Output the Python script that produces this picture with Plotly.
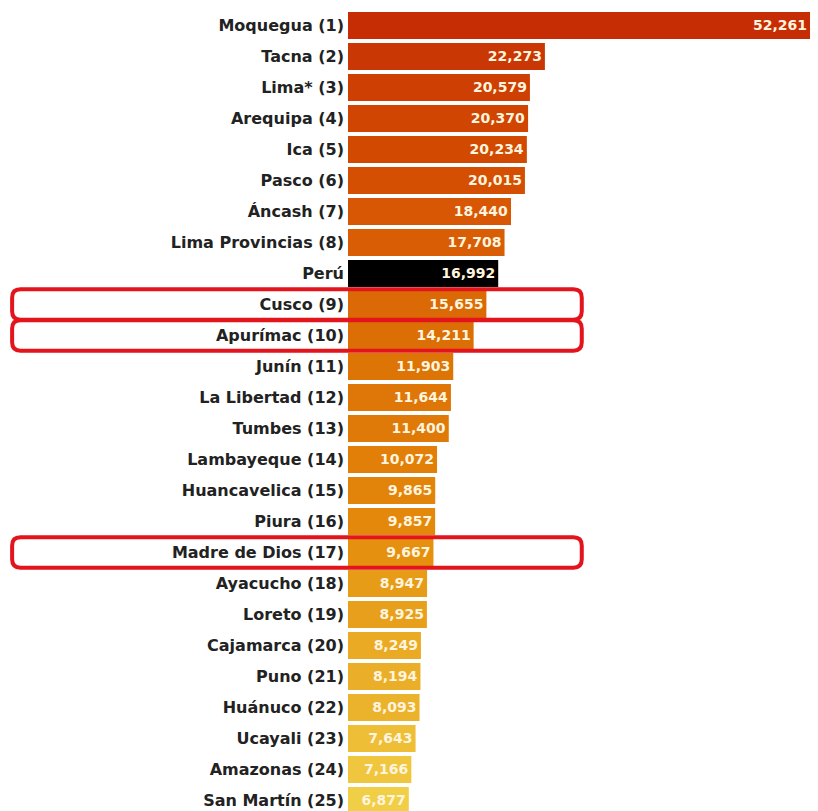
import plotly.graph_objects as go

# regions, ranked, with the national figure in the middle
regions = [
    "Moquegua (1)", "Tacna (2)", "Lima* (3)", "Arequipa (4)", "Ica (5)",
    "Pasco (6)", "Áncash (7)", "Lima Provincias (8)", "Perú", "Cusco (9)",
    "Apurímac (10)", "Junín (11)", "La Libertad (12)", "Tumbes (13)",
    "Lambayeque (14)", "Huancavelica (15)", "Piura (16)", "Madre de Dios (17)",
    "Ayacucho (18)", "Loreto (19)", "Cajamarca (20)", "Puno (21)",
    "Huánuco (22)", "Ucayali (23)", "Amazonas (24)", "San Martín (25)",
]
values = [
    52261, 22273, 20579, 20370, 20234, 20015, 18440, 17708, 16992, 15655,
    14211, 11903, 11644, 11400, 10072, 9865, 9857, 9667, 8947, 8925,
    8249, 8194, 8093, 7643, 7166, 6877,
]
highlighted = ["Cusco (9)", "Apurímac (10)", "Madre de Dios (17)"]

# bar colours, dark red at the top fading to yellow, Perú in black
colors = [
    "#C62D05", "#C93705", "#CD3F03", "#D04502", "#D24A02", "#D44F02",
    "#D75705", "#D95D05", "#000000", "#DB6A06", "#DC6E06", "#DD7406",
    "#DE7707", "#DF7A08", "#E17F08", "#E2840A", "#E4880C", "#E5900E",
    "#E79C18", "#E8A01C", "#EAAA24", "#EBAE28", "#EBB22C", "#EDBE36",
    "#EFC63E", "#F0CE46",
]

pos = list(range(len(regions)))

fig = go.Figure()
fig.add_trace(go.Bar(
    x=values,
    y=pos,
    orientation="h",
    marker=dict(color=colors, line=dict(width=0)),
    text=[f"{v:,}" for v in values],
    textposition="inside",
    insidetextanchor="end",
    textfont=dict(family="DejaVu Sans", size=14, color="#FFF4DE", weight="bold"),
    hoverinfo="skip",
))

# rounded red boxes around the highlighted rows
x0, x1 = -0.727, 0.506
rx, ry = 0.018, 0.27
shapes = []
for name in highlighted:
    i = regions.index(name)
    y0, y1 = i - 0.49, i + 0.49
    path = (
        f"M {x0 + rx},{y0} L {x1 - rx},{y0} Q {x1},{y0} {x1},{y0 + ry} "
        f"L {x1},{y1 - ry} Q {x1},{y1} {x1 - rx},{y1} "
        f"L {x0 + rx},{y1} Q {x0},{y1} {x0},{y1 - ry} "
        f"L {x0},{y0 + ry} Q {x0},{y0} {x0 + rx},{y0} Z"
    )
    shapes.append(dict(type="path", path=path, xref="paper", yref="y",
                       line=dict(color="#E3141B", width=4), layer="above"))

# the page body adds an 8px margin, so the figure is a bit smaller than the window
fig.update_layout(
    width=802,
    height=803,
    margin=dict(l=340, r=0, t=2, b=0),
    paper_bgcolor="white",
    plot_bgcolor="white",
    bargap=0.13,
    showlegend=False,
    shapes=shapes,
    xaxis=dict(visible=False, range=[0, max(values)], fixedrange=True),
    yaxis=dict(
        tickvals=pos,
        ticktext=regions,
        range=[25.34, -0.5],
        showgrid=False,
        zeroline=False,
        showline=False,
        ticks="",
        ticklabelstandoff=3,
        tickfont=dict(family="DejaVu Sans", size=16, color="#222222", weight="bold"),
    ),
)

fig.write_html("out.html")
